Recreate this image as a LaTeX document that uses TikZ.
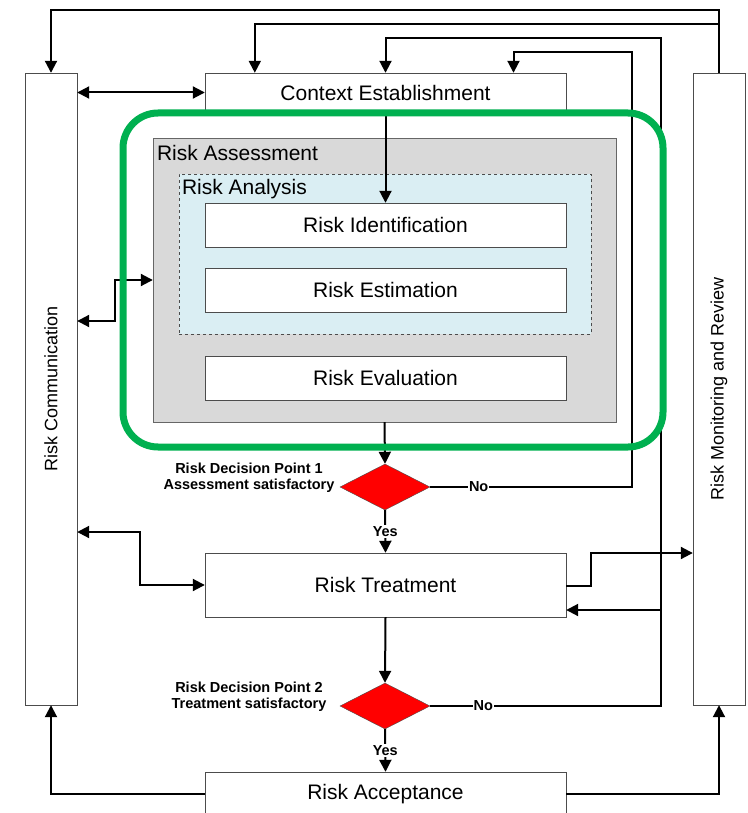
\documentclass[tikz,border=0pt]{standalone}
\usepackage{fontspec}
\setmainfont{Liberation Sans}
\usetikzlibrary{arrows.meta,shapes.geometric,positioning,calc}
\definecolor{focusgreen}{HTML}{00B050}
\definecolor{analysisblue}{HTML}{DAEEF3}
\definecolor{assessgray}{HTML}{D9D9D9}

\begin{document}
\begin{tikzpicture}[x=1pt, y=1pt,
  box/.style={draw=black!70, fill=white, minimum width=361pt, minimum height=44pt, font=\fontsize{21}{25}\selectfont},
  side/.style={draw=black!70, fill=white, minimum width=52pt, minimum height=632pt},
  sidetext/.style={rotate=90, font=\fontsize{18}{22}\selectfont},
  title/.style={anchor=north west, inner sep=0pt, font=\fontsize{21}{25}\selectfont},
  decide/.style={diamond, draw=black!70, fill=red, minimum width=90pt, minimum height=46pt, inner sep=0pt},
  arr/.style={line width=2pt, -{Triangle[length=12pt,width=12pt]}},
  both/.style={line width=2pt, {Triangle[length=12pt,width=12pt]}-{Triangle[length=12pt,width=12pt]}},
  yn/.style={fill=white, inner sep=1pt, font=\bfseries\fontsize{14.5}{16}\selectfont},
  qlbl/.style={align=center, font=\bfseries\fontsize{14.5}{16}\selectfont}]
\useasboundingbox (0,0) rectangle (747,-813);

\node[side] (comm) at (51,-389) {};
\node[sidetext] (commtxt) at (comm) {Risk Communication};
\node[side] (mon) at (719,-389) {};
\node[sidetext] (montxt) at (mon) {Risk Monitoring and Review};

\node[box, minimum height=39pt] (ctx) at (385.5,-92.5) {Context Establishment};
\node[draw=black!60, fill=assessgray, minimum width=463pt, minimum height=284pt] (assess) at (384.5,-280) {};
\node[title] (assesstxt) at ([shift={(4,-7)}]assess.north west) {Risk Assessment};
\node[draw=black!70, dashed, fill=analysisblue, minimum width=412pt, minimum height=160pt] (analysis) at (385,-254) {};
\node[title] (analysistxt) at ([shift={(3,-5)}]analysis.north west) {Risk Analysis};
\foreach \n/\y/\t in {ident/225/Risk Identification, estim/290/Risk Estimation, evalu/378/Risk Evaluation}
  \node[box] (\n) at (385.5,-\y) {\t};

\node[decide] (d1) at (385,-487) {};
\node[qlbl] (q1) at (249,-478) {Risk Decision Point 1\\Assessment satisfactory};
\node[box, minimum height=64pt] (treat) at (385.5,-585) {Risk Treatment};
\node[decide] (d2) at (385,-706) {};
\node[qlbl] (q2) at (249,-697) {Risk Decision Point 2\\Treatment satisfactory};
\node[box] (accept) at (385.5,-794) {Risk Acceptance};

% loops back to the top
\draw[arr] (mon.north) -- ++(0,63) -| (comm.north);
\draw[arr] ([yshift=49pt]mon.north) -| ([xshift=50pt]ctx.north west);
\draw[arr] (d2.east) -- node[yn, pos=0.23] (no2) {No} ++(231,0) coordinate (ret) |- ([yshift=35pt]ctx.north) -- (ctx.north);
\draw[arr] (d1.east) -- node[yn, pos=0.24] (no1) {No} ++(202,0) |- ([xshift=128pt, yshift=21pt]ctx.north) -- ([xshift=128pt]ctx.north);
\draw[arr] ([yshift=-25pt]treat.east -| ret) -- ([yshift=-25pt]treat.east);
\draw[arr] ([yshift=-1pt]treat.east) -- ++(25,0) |- ([yshift=-164pt]mon.west);

\draw[both] (ctx.west) -- (ctx.west -| comm.east);
\draw[both] ([yshift=68pt]comm.east) -- ++(38,0) |- (assess.west);
\draw[both] ([yshift=-143pt]comm.east) -- ++(63,0) |- (treat.west);

\draw[arr] (ctx.south) -- (ident.north);
\draw[arr] (assess.south) -- (d1.north);
\draw[arr] (d1.south) -- node[yn] (yes1) {Yes} (treat.north);
\draw[arr] (treat.south) -- (d2.north);
\draw[arr] (d2.south) -- node[yn] (yes2) {Yes} (accept.north);
\draw[arr] (accept.west) -| (comm.south);
\draw[arr] (accept.east) -| (mon.south);

\node[draw=focusgreen, line width=7pt, rounded corners=35pt, minimum width=540pt, minimum height=334pt] (focus) at (393,-280) {};
\end{tikzpicture}
\end{document}
